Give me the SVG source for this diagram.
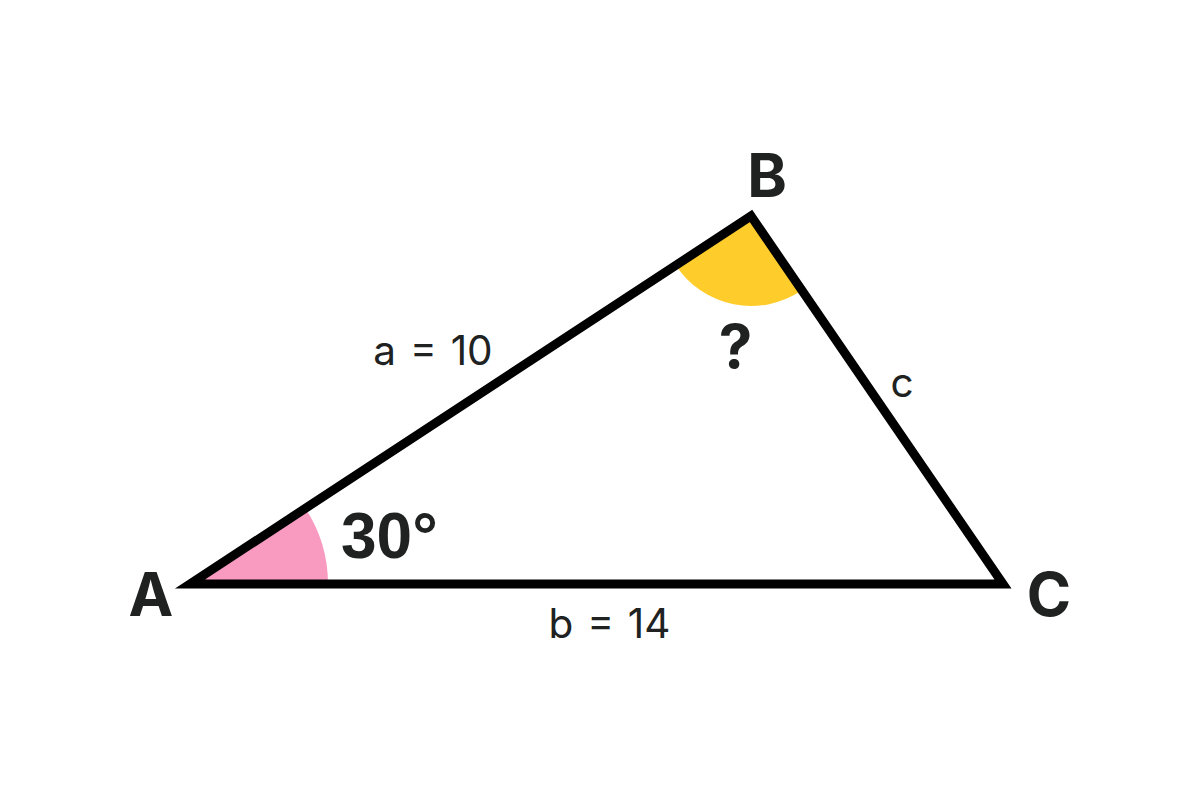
<svg xmlns="http://www.w3.org/2000/svg" width="1200" height="800" viewBox="0 0 1200 800">
<style>
.vlab{font-family:Inter,"Liberation Sans",sans-serif;font-weight:700;font-size:60px;fill:#202222;text-anchor:middle}
.deg{font-family:"Liberation Sans",Arial,sans-serif;font-weight:700;font-size:64px;fill:#202222}
.slab{font-family:Inter,"Liberation Sans",sans-serif;font-weight:400;font-size:40.5px;fill:#202222;text-anchor:middle;word-spacing:2.5px}
.edge{fill:none;stroke:#000;stroke-width:9;stroke-linejoin:miter;stroke-miterlimit:10}
</style>
<rect width="1200" height="800" fill="#ffffff"/>
<g id="angle-A">
<path d="M190,584 L328,584 A138,138 0 0,0 305.3,508.2 Z" fill="#F99BC1"/>
<text class="deg" x="341" y="558">30°</text>
</g>
<g id="angle-B">
<path d="M751,216 L675.8,265.3 A90,90 0 0,0 801.9,290.3 Z" fill="#FFCD2B"/>
<text class="vlab" x="735.5" y="368">?</text>
</g>
<g id="connectors">
<path class="edge" d="M190,584 L751,216 L1003,584 Z"/>
</g>
<g id="node-A"><text class="vlab" x="151" y="616">A</text></g>
<g id="node-B"><text class="vlab" x="767" y="197">B</text></g>
<g id="node-C"><text class="vlab" x="1049" y="616">C</text></g>
<g id="side-a"><text class="slab" x="433" y="365">a = 10</text></g>
<g id="side-b"><text class="slab" x="609.5" y="638">b = 14</text></g>
<g id="side-c"><text class="slab" x="902" y="397">c</text></g>
</svg>
